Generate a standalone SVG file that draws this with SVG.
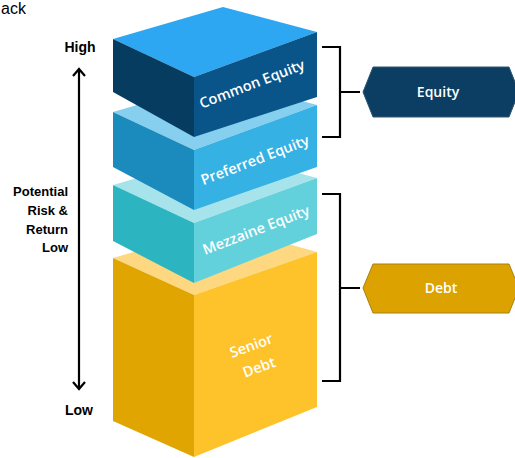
<svg xmlns="http://www.w3.org/2000/svg" width="515" height="458" viewBox="0 0 515 458">
<style>
.lbl{font-family:"Liberation Sans",Arial,sans-serif;font-weight:bold;fill:#000}
.blk{font-family:"Open Sans","DejaVu Sans",sans-serif;font-weight:600;font-size:14.5px;fill:#fff;text-anchor:middle}
.hex{font-family:"Open Sans","DejaVu Sans",sans-serif;font-weight:600;font-size:14px;fill:#fff;text-anchor:middle}
.br{fill:none;stroke:#000;stroke-width:2.2}
</style>
<rect width="515" height="458" fill="#fff"/>
<text x="1" y="14" font-family="Liberation Sans,Arial,sans-serif" font-size="16" fill="#000">ack</text>

<g id="axis">
<text class="lbl" x="80" y="52" font-size="14" text-anchor="middle">High</text>
<text class="lbl" x="79" y="415" font-size="14" text-anchor="middle">Low</text>
<g font-size="13" text-anchor="end">
<text class="lbl" x="68" y="196">Potential</text>
<text class="lbl" x="68" y="215">Risk &amp;</text>
<text class="lbl" x="68" y="234">Return</text>
<text class="lbl" x="68" y="252">Low</text>
</g>
</g>

<g id="connectors">
<path class="br" d="M79 69 V389 M73 76 L79 69 L85 76 M73 382 L79 389 L85 382"/>
<path class="br" d="M322 47 H340 V137 H322 M340 92 H360"/>
<path class="br" d="M322 194 H340 V381 H322 M340 288 H360"/>
</g>

<g id="senior-debt">
<polygon points="113,258 223,226 317,252 194,295" fill="#FDD880"/>
<polygon points="113,258 194,295 194,457 113,421" fill="#E0A500"/>
<polygon points="194,295 317,252 317,407 194,457" fill="#FEC32B"/>
<g transform="translate(255,356) rotate(-20)">
<text class="blk" x="0" y="-6">Senior</text>
<text class="blk" x="0" y="17">Debt</text>
</g>
</g>

<g id="mezzanine-equity">
<polygon points="113,185 223,153 317,178 194,223" fill="#A7E3EA"/>
<polygon points="113,185 194,223 194,283 113,241" fill="#2CB5C1"/>
<polygon points="194,223 317,178 317,234 194,283" fill="#63D1DB"/>
<text class="blk" transform="translate(256,230) rotate(-21)" y="5">Mezzaine Equity</text>
</g>

<g id="preferred-equity">
<polygon points="113,112 223,80 317,105 194,150" fill="#86CFEF"/>
<polygon points="113,112 194,150 194,210 113,167" fill="#1B8BBE"/>
<polygon points="194,150 317,105 317,167 194,210" fill="#35B1E4"/>
<text class="blk" transform="translate(255,160) rotate(-21)" y="5">Preferred Equity</text>
</g>

<g id="common-equity">
<polygon points="113,39 223,7 317,32 194,77" fill="#2EA7F2"/>
<polygon points="113,39 194,77 194,137 113,92" fill="#063C60"/>
<polygon points="194,77 317,32 317,97 194,137" fill="#09558A"/>
<text class="blk" transform="translate(252,84) rotate(-21)" y="5">Common Equity</text>
</g>

<g id="equity">
<polygon points="363,92 373,67 509,67 519,92 509,117 373,117" fill="#0C3D62" stroke="#2E5673" stroke-width="1"/>
<text class="hex" x="438" y="97">Equity</text>
</g>

<g id="debt">
<polygon points="363,288 373,264 509,264 519,288 509,313 373,313" fill="#DCA300" stroke="#A8800E" stroke-width="1"/>
<text class="hex" x="441" y="293">Debt</text>
</g>
</svg>
